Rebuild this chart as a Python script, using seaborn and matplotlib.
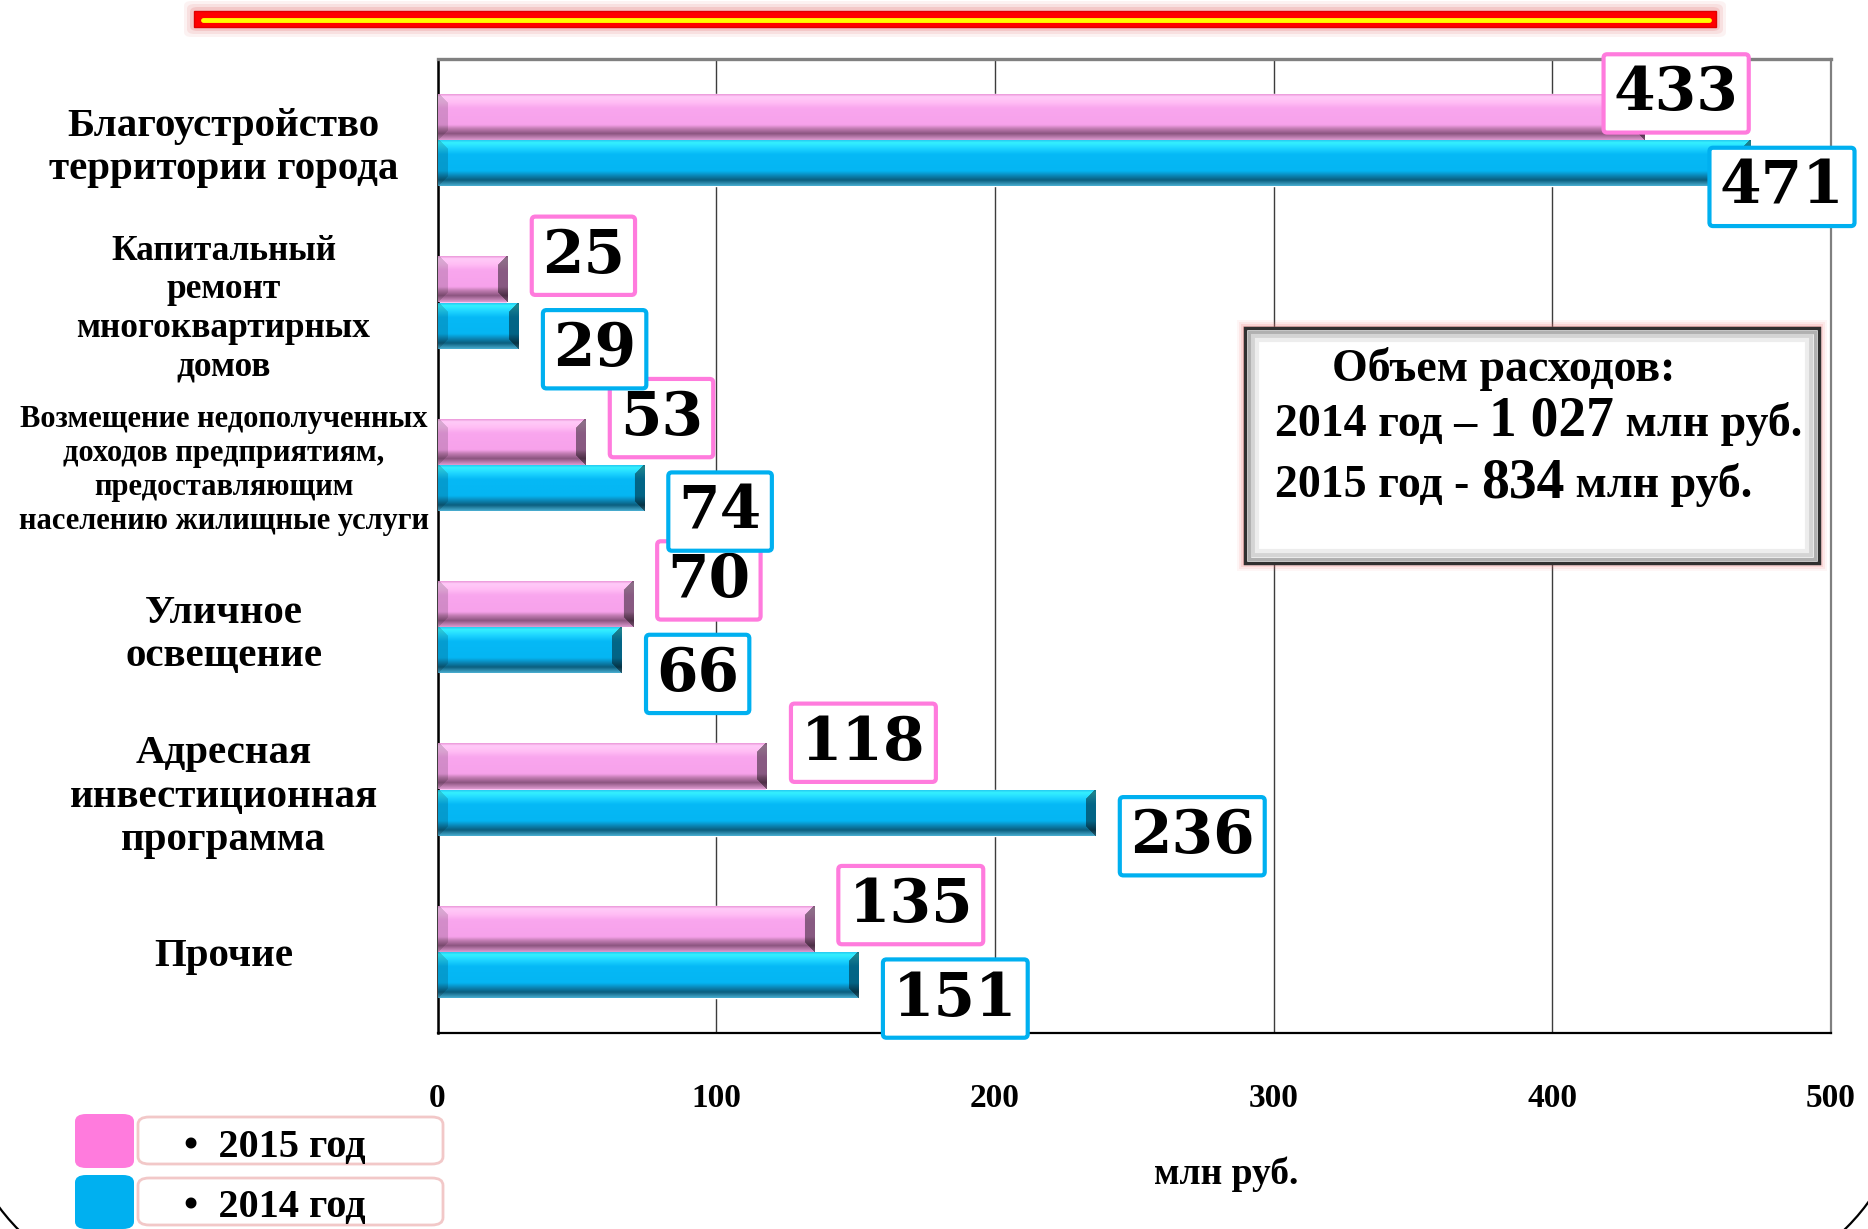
import numpy as np
import pandas as pd
import matplotlib
matplotlib.use("Agg")
import matplotlib.pyplot as plt
from matplotlib.patches import FancyBboxPatch, Rectangle, Arc
import seaborn as sns

# ---------------- data ----------------
categories = [
    "Благоустройство\nтерритории города",
    "Капитальный\nремонт\nмногоквартирных\nдомов",
    "Возмещение недополученных\nдоходов предприятиям,\nпредоставляющим\nнаселению жилищные услуги",
    "Уличное\nосвещение",
    "Адресная\nинвестиционная\nпрограмма",
    "Прочие",
]
years = ["2015 год", "2014 год"]
values_2015 = [433, 25, 53, 70, 118, 135]
values_2014 = [471, 29, 74, 66, 236, 151]
x_ticks = [0, 100, 200, 300, 400, 500]
x_label = "млн руб."
box_lines = ["Объем расходов:", "2014 год – ", "1 027", " млн руб.", "2015 год - ", "834", " млн руб."]

PINK = "#F9A6EE"
PINK_EDGE = "#FF7BDD"
BLUE = "#05B8F4"
BLUE_EDGE = "#00B0F0"

df = pd.DataFrame({
    "category": categories * 2,
    "year": [years[0]] * len(categories) + [years[1]] * len(categories),
    "value": values_2015 + values_2014,
})

sns.set_style("white")
plt.rcParams["font.family"] = ["Liberation Serif", "DejaVu Serif"]
plt.rcParams["font.weight"] = "bold"
for key in ["text.color", "axes.labelcolor", "xtick.color", "ytick.color"]:
    plt.rcParams[key] = "black"

W, H = 1868, 1229
fig = plt.figure(figsize=(W / 100, H / 100), dpi=100)
ax_l, ax_r, ax_t, ax_b = 437.5, 1831, 59, 1033
ax = fig.add_axes([ax_l / W, 1 - ax_b / H, (ax_r - ax_l) / W, (ax_b - ax_t) / H])

sns.barplot(data=df, y="category", x="value", hue="year", hue_order=years,
            palette=[PINK, BLUE], orient="h", width=0.57, gap=0,
            saturation=1, legend=False, ax=ax, zorder=2)

ax.set_xlim(0, 500)
ax.set_ylim(len(categories) - 0.5, -0.5)

# ---------- bevel shading on bars ----------
def profile(stops, n):
    t = np.linspace(0, 1, n)
    pos = [s[0] for s in stops]
    cols = np.array([matplotlib.colors.to_rgb(s[1]) for s in stops])
    return np.stack([np.interp(t, pos, cols[:, k]) for k in range(3)], axis=1)

pink_stops = [(0, "#E58CD2"), (0.07, "#FFCBF8"), (0.2, "#FFBCF4"), (0.32, "#F9A6EE"),
              (0.68, "#F7A2EB"), (0.76, "#C27DB3"), (0.87, "#8C5580"), (1.0, "#D896CB")]
blue_stops = [(0, "#22C2EE"), (0.07, "#35F0FF"), (0.2, "#1CD3FF"), (0.32, "#05B9F6"),
              (0.68, "#05B6F3"), (0.77, "#0A8CBE"), (0.88, "#0B5E7E"), (1.0, "#46A9CC")]

px_per_unit = (ax_r - ax_l) / 500.0
bar_px = 0.285 * (ax_b - ax_t) / len(categories)
for cont, stops in zip(ax.containers, [pink_stops, blue_stops]):
    for bar in cont:
        x0, y0 = bar.get_x(), bar.get_y()
        w, h = bar.get_width(), bar.get_height()
        ncol = max(int(round(w * px_per_unit)), 4)
        nrow = max(int(round(bar_px)), 4)
        prof = profile(stops, nrow)
        img = np.repeat(prof[:, None, :], ncol, axis=1).copy()
        s = 10
        rows = np.arange(nrow)[:, None]
        cols = np.arange(ncol)[None, :]
        dtop = rows
        dbot = nrow - 1 - rows
        dright = ncol - 1 - cols
        dleft = cols
        right_face = (dright < s) & (dright <= dtop) & (dright <= dbot)
        left_face = (dleft < s) & (dleft <= dtop) & (dleft <= dbot)
        img[np.broadcast_to(right_face, img.shape[:2])] *= 0.55
        img[np.broadcast_to(left_face, img.shape[:2])] *= 0.85
        im = ax.imshow(img, extent=(x0, x0 + w, y0 + h, y0), origin="upper",
                       aspect="auto", interpolation="bilinear", zorder=3)
        im.set_clip_path(bar)

ax.set_xlim(0, 500)
ax.set_ylim(len(categories) - 0.5, -0.5)

# ---------- value labels ----------
for cont, vals, edge, dy in zip(ax.containers, [values_2015, values_2014],
                                [PINK_EDGE, BLUE_EDGE], [17, -17]):
    for bar, v in zip(cont, vals):
        yc = bar.get_y() + bar.get_height() / 2
        dx = -22 if v > 400 else 25
        ax.annotate(str(v), xy=(v, yc), xytext=(dx, dy), textcoords="offset points",
                    ha="left", va="center", fontsize=43, fontweight="bold",
                    family="DejaVu Serif", color="black", zorder=6, annotation_clip=False,
                    bbox=dict(boxstyle="round,pad=0.17,rounding_size=0.06",
                              fc="white", ec=edge, lw=3))

# ---------- axes styling ----------
ax.set_xticks(x_ticks)
ax.set_xticklabels([str(t) for t in x_ticks])
ax.set_xlabel(x_label, fontsize=27, fontweight="bold")
ax.xaxis.set_label_coords((1226 - ax_l) / (ax_r - ax_l), (ax_b - 1156) / (ax_b - ax_t))
ax.set_ylabel("")
ax.xaxis.grid(True, color="#3c3c3c", lw=1.0)
ax.set_axisbelow(True)
ax.tick_params(axis="x", direction="out", length=9, width=1, color="#333333",
               pad=27, labelsize=24)
ax.tick_params(axis="y", which="major", length=0, pad=154)
ax.set_yticks(np.arange(len(categories) + 1) - 0.5, minor=True)
ax.tick_params(axis="y", which="minor", length=3, width=1, direction="out")

label_sizes = [29.5, 25.5, 22, 29.5, 29.5, 29.5]
for lab, fs in zip(ax.get_yticklabels(), label_sizes):
    lab.set_ha("center")
    lab.set_multialignment("center")
    lab.set_fontsize(fs)
    lab.set_fontweight("bold")
    lab.set_linespacing(1.22)
for lab in ax.get_xticklabels():
    lab.set_fontweight("bold")

for side, col, lw in [("top", "#808080", 2.4), ("right", "#808080", 1.6),
                      ("left", "black", 1.8), ("bottom", "black", 1.6)]:
    ax.spines[side].set_visible(True)
    ax.spines[side].set_color(col)
    ax.spines[side].set_linewidth(lw)

# ---------- figure decorations ----------
def fx(px):
    return px / W

def fy(py):
    return 1 - py / H

# top red line with yellow stripe
for k, a in enumerate([0.08, 0.12, 0.18]):
    g = 10 - 3 * k
    fig.patches.append(FancyBboxPatch((fx(194 - g), fy(27 + g)), fx(1522 + 2 * g), (16 + 2 * g) / H,
                                      boxstyle="round,pad=0,rounding_size=0.004",
                                      transform=fig.transFigure, fc="#E06060", ec="none",
                                      alpha=a, zorder=1))
fig.patches.append(Rectangle((fx(194), fy(27)), fx(1522), 16 / H, transform=fig.transFigure,
                             fc="#FF0000", ec="#E00000", lw=1, zorder=2))
fig.lines.append(plt.Line2D([fx(203), fx(1709)], [fy(19.5), fy(19.5)], transform=fig.transFigure,
                            color="#FFFF00", lw=3.5, zorder=3))

# text box with red glow and bevelled frame
bx0, by0, bx1, by1 = 1245, 328, 1819, 563
for k, a in enumerate([0.06, 0.1, 0.16, 0.25]):
    g = 8 - 2 * k
    fig.patches.append(Rectangle((fx(bx0 - g), fy(by1 + g)), fx(bx1 - bx0 + 2 * g),
                                 (by1 - by0 + 2 * g) / H, transform=fig.transFigure,
                                 fc="#F07070", ec="none", alpha=a, zorder=4))
fig.patches.append(Rectangle((fx(bx0), fy(by1)), fx(bx1 - bx0), (by1 - by0) / H,
                             transform=fig.transFigure, fc="white", ec="#303030", lw=2.5, zorder=5))
for k, (ins, colr, lw) in enumerate([(4, "#b0b0b0", 2.5), (8, "#D4D4D4", 3), (12, "#EDEDED", 3)]):
    fig.patches.append(Rectangle((fx(bx0 + ins), fy(by1 - ins)), fx(bx1 - bx0 - 2 * ins),
                                 (by1 - by0 - 2 * ins) / H, transform=fig.transFigure,
                                 fc="none", ec=colr, lw=lw, zorder=5))

fig.text(fx(1332), fy(381), box_lines[0], fontsize=33, fontweight="bold", va="baseline",
         ha="left", zorder=7)
fig.canvas.draw()
renderer = fig.canvas.get_renderer()

def chain(pieces, x_start, baseline):
    x = x_start
    for txt, fs in pieces:
        t = fig.text(fx(x), fy(baseline), txt, fontsize=fs, fontweight="bold",
                     va="baseline", ha="left", zorder=7)
        bb = t.get_window_extent(renderer=renderer)
        x = x + bb.width

chain([(box_lines[1], 33), (box_lines[2], 40), (box_lines[3], 33)], 1275, 436)
chain([(box_lines[4], 33), (box_lines[5], 40), (box_lines[6], 33)], 1275, 497)

# legend
leg = [(years[0], PINK_EDGE, 1114), (years[1], BLUE_EDGE, 1175)]
for name, col, top in leg:
    fig.patches.append(FancyBboxPatch((fx(138), fy(top + 50)), fx(305), 47 / H,
                                      boxstyle="round,pad=0,rounding_size=0.006",
                                      transform=fig.transFigure, fc="white", ec="#F2C8C8",
                                      lw=2, zorder=3))
    fig.patches.append(FancyBboxPatch((fx(75), fy(top + 54)), fx(59), 54 / H,
                                      boxstyle="round,pad=0,rounding_size=0.006",
                                      transform=fig.transFigure, fc=col, ec="none", zorder=4))
    fig.text(fx(184), fy(top + 33), "•  " + name, fontsize=29, fontweight="bold",
             va="center", ha="left", zorder=5)

# slide frame corners
fig.patches.append(Arc((fx(170), fy(1080)), 2 * 213 / W, 2 * 213 / H, theta1=180, theta2=270,
                       transform=fig.transFigure, color="black", lw=1.6, zorder=6))
fig.patches.append(Arc((fx(1700), fy(1080)), 2 * 208 / W, 2 * 208 / H, theta1=270, theta2=360,
                       transform=fig.transFigure, color="black", lw=1.6, zorder=6))

fig.savefig("out.png", dpi=100, facecolor="white")
